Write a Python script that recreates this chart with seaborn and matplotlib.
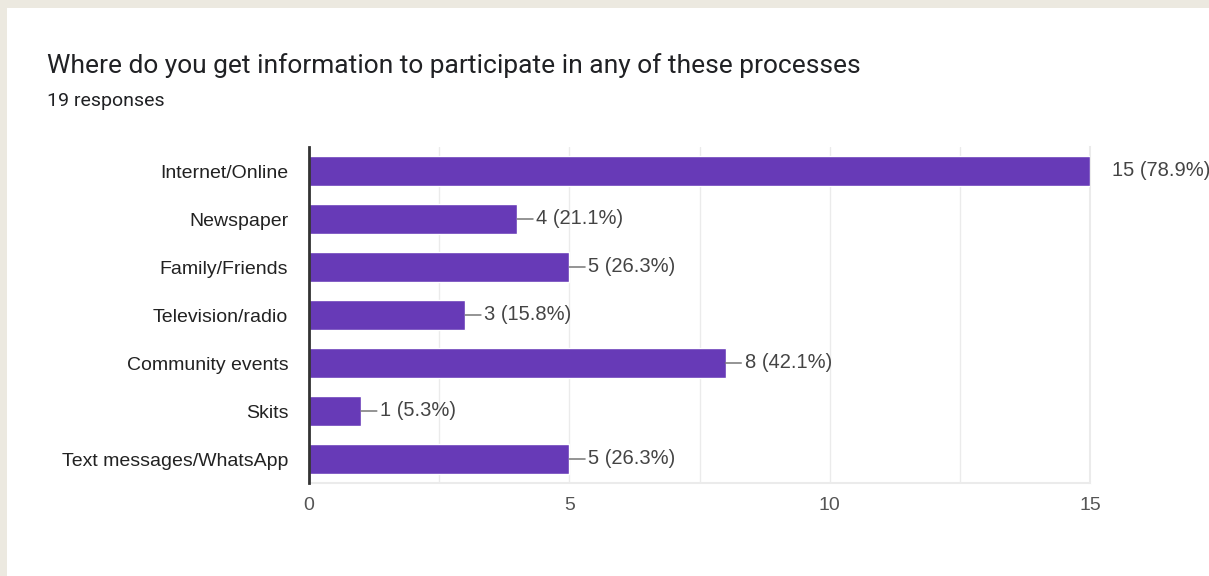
import matplotlib
matplotlib.use("Agg")
import matplotlib.pyplot as plt
import seaborn as sns
import pandas as pd

categories = ["Internet/Online", "Newspaper", "Family/Friends", "Television/radio",
              "Community events", "Skits", "Text messages/WhatsApp"]
counts = [15, 4, 5, 3, 8, 1, 5]
percents = ["78.9%", "21.1%", "26.3%", "15.8%", "42.1%", "5.3%", "26.3%"]
x_ticks = [0, 5, 10, 15]
title = "Where do you get information to participate in any of these processes"
subtitle = "19 responses"

df = pd.DataFrame({"category": categories, "count": counts})

sns.set_theme(style="white")
plt.rcParams["font.family"] = ["Liberation Sans", "DejaVu Sans"]

W, H = 1209, 576
fig = plt.figure(figsize=(W / 100, H / 100), dpi=100)
fig.patch.set_facecolor("#ECE9E0")
# white card
card = plt.Rectangle((7 / W, 0), 1, 1 - 8 / H, transform=fig.transFigure,
                     facecolor="white", edgecolor="none", zorder=-10)
fig.patches.append(card)

ax = fig.add_axes([309 / W, 1 - 483 / H, (1090 - 309) / W, (483 - 147) / H])
ax.set_facecolor("white")

sns.barplot(data=df, x="count", y="category", orient="h", color="#673AB7",
            saturation=1, width=0.625, ax=ax, zorder=3)

ax.set_xlim(0, 15)
ax.set_ylim(len(categories) - 0.5, -0.5)
ax.set_xticks(x_ticks)
ax.set_xticks([2.5, 7.5, 12.5], minor=True)
ax.grid(axis="x", which="both", color="#EBEBEB", linewidth=1, zorder=0)
ax.set_axisbelow(True)
ax.set_xlabel("")
ax.set_ylabel("")

ax.spines["top"].set_visible(False)
ax.spines["left"].set_color("#333333")
ax.spines["left"].set_linewidth(2)
ax.spines["left"].set_zorder(5)
ax.spines["bottom"].set_color("#EBEBEB")
ax.spines["right"].set_color("#EBEBEB")
ax.spines["bottom"].set_linewidth(1.5)
ax.spines["right"].set_linewidth(1.5)

ax.tick_params(axis="x", which="both", length=0, pad=10, labelsize=14, labelcolor="#555555")
ax.tick_params(axis="y", length=0, pad=15, labelsize=14, labelcolor="#222222")

xmax = ax.get_xlim()[1]
for i, (c, p) in enumerate(zip(counts, percents)):
    label = f"{c} ({p})"
    if c >= xmax:
        ax.annotate(label, xy=(c, i), xytext=(15.5, 0), textcoords="offset points",
                    ha="left", va="center", fontsize=14.5, color="#444444",
                    annotation_clip=False)
    else:
        ax.annotate(label, xy=(c, i), xytext=(13.7, 0), textcoords="offset points",
                    ha="left", va="center", fontsize=14.5, color="#444444",
                    annotation_clip=False,
                    arrowprops=dict(arrowstyle="-", color="#777777", lw=1.1,
                                    shrinkA=0, shrinkB=0, relpos=(0, 0.5)))

fig.text(47 / W, 1 - 66 / H, title, fontsize=19, color="#202124",
         family=["Roboto", "DejaVu Sans"], va="center", ha="left")
fig.text(47 / W, 1 - 101 / H, subtitle, fontsize=14, color="#202124",
         family=["Roboto", "DejaVu Sans"], va="center", ha="left")

fig.savefig("out.png", dpi=100, facecolor=fig.get_facecolor())
